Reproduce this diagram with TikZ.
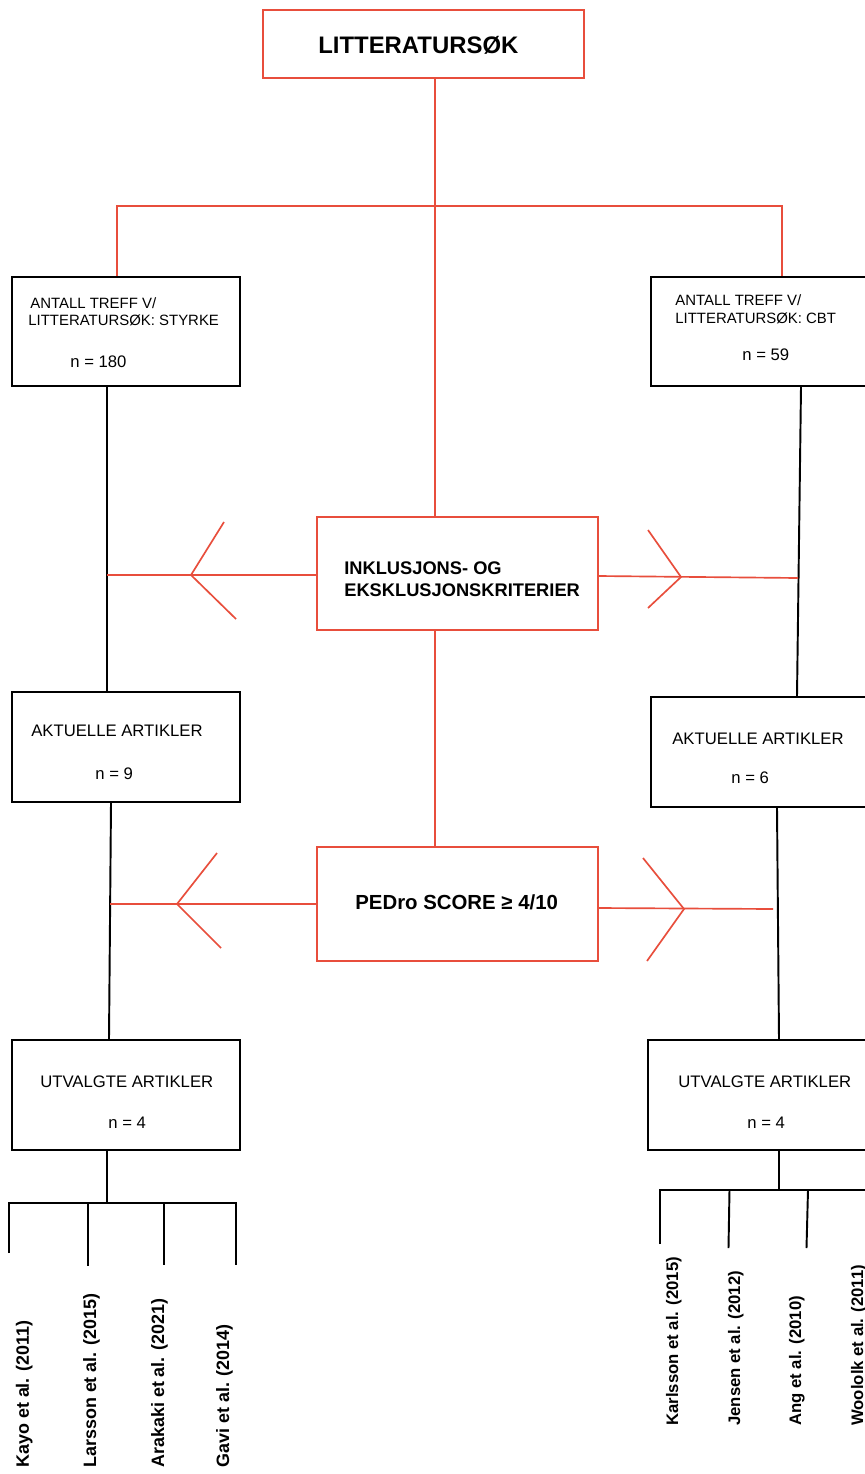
\documentclass[tikz,border=0pt]{standalone}
\usepackage{fontspec}
\setmainfont{Liberation Sans}
\usetikzlibrary{fit}
\definecolor{flred}{RGB}{232,78,60}
\newcommand{\fsz}[1]{\fontsize{#1}{#1}\selectfont}
\begin{document}
\begin{tikzpicture}[x=0.02cm,y=-0.02cm,
  rbox/.style={draw=flred,line width=0.95pt,inner sep=0pt},
  kbox/.style={draw=black,line width=1.1pt,inner sep=0pt},
  rl/.style={draw=flred,line width=0.95pt},
  kl/.style={draw=black,line width=1.1pt},
  txt/.style={inner sep=0pt,anchor=base west,font=\fsz{9.5pt}},
  stxt/.style={inner sep=0pt,anchor=base west,font=\fsz{8.5pt}},
  btxt/.style={inner sep=0pt,anchor=base west,font=\bfseries\fsz{10.4pt}},
  ltitle/.style={inner sep=0pt,anchor=base west,rotate=90,font=\bfseries\fsz{10.2pt}},
  rtitle/.style={inner sep=0pt,anchor=base west,rotate=90,font=\bfseries\fsz{9.5pt}}]
\useasboundingbox (0,0) rectangle (865,1474);
\clip (0,0) rectangle (865,1474);
\fill[white] (0,0) rectangle (865,1474);

% boxes
\node[rbox, fit={(263,10) (584,78)}] (top) {};
\node[kbox, fit={(12,277) (240,386)}] (l1) {};
\node[kbox, fit={(651,277) (885,386)}] (r1) {};
\node[rbox, fit={(317,517) (598,630)}] (ink) {};
\node[kbox, fit={(12,692) (240,802)}] (l2) {};
\node[kbox, fit={(651,697) (885,807)}] (r2) {};
\node[rbox, fit={(317,847) (598,961)}] (ped) {};
\node[kbox, fit={(12,1040) (240,1150)}] (l3) {};
\node[kbox, fit={(648,1040) (885,1150)}] (r3) {};

% texts
\node[inner sep=0pt,anchor=base west,font=\bfseries\fsz{13.6pt}] (ttop) at (318,53) {LITTERATURSØK};
\node[stxt] (l1a) at (30,308) {ANTALL TREFF V/};
\node[stxt] (l1b) at (28,325) {LITTERATURSØK: STYRKE};
\node[txt] (l1n) at (70,367) {n = 180};
\node[stxt] (r1a) at (675,305) {ANTALL TREFF V/};
\node[stxt] (r1b) at (675,323) {LITTERATURSØK: CBT};
\node[txt] (r1n) at (742,360) {n = 59};
\node[btxt] (inka) at (344,574) {INKLUSJONS- OG};
\node[btxt] (inkb) at (344,596) {EKSKLUSJONSKRITERIER};
\node[txt] (l2a) at (31,736) {AKTUELLE ARTIKLER};
\node[txt] (l2n) at (95,779) {n = 9};
\node[txt] (r2a) at (672,744) {AKTUELLE ARTIKLER};
\node[txt] (r2n) at (731,783) {n = 6};
\node[inner sep=0pt,anchor=base west,font=\bfseries\fsz{11.6pt}] (pedt) at (355,909) {PEDro SCORE ≥ 4/10};
\node[txt] (l3a) at (40,1087) {UTVALGTE ARTIKLER};
\node[txt] (l3n) at (108,1128) {n = 4};
\node[txt] (r3a) at (678,1087) {UTVALGTE ARTIKLER};
\node[txt] (r3n) at (747,1128) {n = 4};

% red connectors from the top
\coordinate (jt) at (435,206);
\coordinate (jl) at (117,206);
\coordinate (jr) at (782,206);
\draw[rl] (top.south -| jt) -- (jt) -- (ink.north -| jt);
\draw[rl] (l1.north -| jl) -- (jl) -- (jr) -- (r1.north -| jr);
\draw[rl] (ink.south -| jt) -- (ped.north -| jt);

% black vertical flows
\coordinate (bl1) at (107,575);
\draw[kl] (l1.south -| bl1) -- (l2.north -| bl1);
\coordinate (br1a) at (801,386);
\coordinate (br1b) at (797,697);
\draw[kl] (r1.south -| br1a) -- (r2.north -| br1b);
\coordinate (bl2a) at (111,802);
\coordinate (bl2b) at (109,1040);
\draw[kl] (l2.south -| bl2a) -- (l3.north -| bl2b);
\coordinate (br2a) at (777,807);
\coordinate (br2b) at (779,1040);
\draw[kl] (r2.south -| br2a) -- (r3.north -| br2b);

% red side arrows, inclusion criteria
\draw[rl] (ink.west |- bl1) -- (bl1);
\draw[rl] (224,522) -- (191,575) -- (236,619);
\coordinate (rr1) at (798,578);
\draw[rl] (ink.east |- 0,576) -- (rr1);
\draw[rl] (648,530) -- (681,577) -- (648,608);

% red side arrows, PEDro
\coordinate (bl2) at (110,904);
\draw[rl] (ped.west |- bl2) -- (bl2);
\draw[rl] (217,853) -- (177,904) -- (221,948);
\coordinate (rr2) at (773,909);
\draw[rl] (ped.east |- 0,908) -- (rr2);
\draw[rl] (643,858) -- (684,909) -- (647,961);

% left tree
\coordinate (lt) at (107,1203);
\coordinate (lk1) at (9,1253);
\coordinate (lk2) at (88,1266);
\coordinate (lk3) at (164,1265);
\coordinate (lk4) at (236,1265);
\draw[kl] (l3.south -| lt) -- (lt);
\draw[kl] (lk1) -- (lk1 |- lt) -- (lk4 |- lt) -- (lk4);
\draw[kl] (lk2 |- lt) -- (lk2);
\draw[kl] (lk3 |- lt) -- (lk3);
\node[ltitle] (p1) at (29,1468) {Kayo et al. (2011)};
\node[ltitle] (p2) at (96,1468) {Larsson et al. (2015)};
\node[ltitle] (p3) at (164,1468) {Arakaki et al. (2021)};
\node[ltitle] (p4) at (229,1468) {Gavi et al. (2014)};

% right tree
\coordinate (rt) at (779,1190);
\coordinate (rk1) at (660,1244);
\coordinate (rk2a) at (729.5,1190);
\coordinate (rk2b) at (728.5,1248);
\coordinate (rk3a) at (808,1190);
\coordinate (rk3b) at (806.5,1248);
\coordinate (rend) at (885,1190);
\draw[kl] (r3.south -| rt) -- (rt);
\draw[kl] (rk1) -- (rk1 |- rt) -- (rend);
\draw[kl] (rk2a) -- (rk2b);
\draw[kl] (rk3a) -- (rk3b);
\node[rtitle] (q1) at (678,1426) {Karlsson et al. (2015)};
\node[rtitle] (q2) at (740,1426) {Jensen et al. (2012)};
\node[rtitle] (q3) at (801,1426) {Ang et al. (2010)};
\node[rtitle] (q4) at (863,1426) {Woololk et al. (2011)};
\end{tikzpicture}
\end{document}
